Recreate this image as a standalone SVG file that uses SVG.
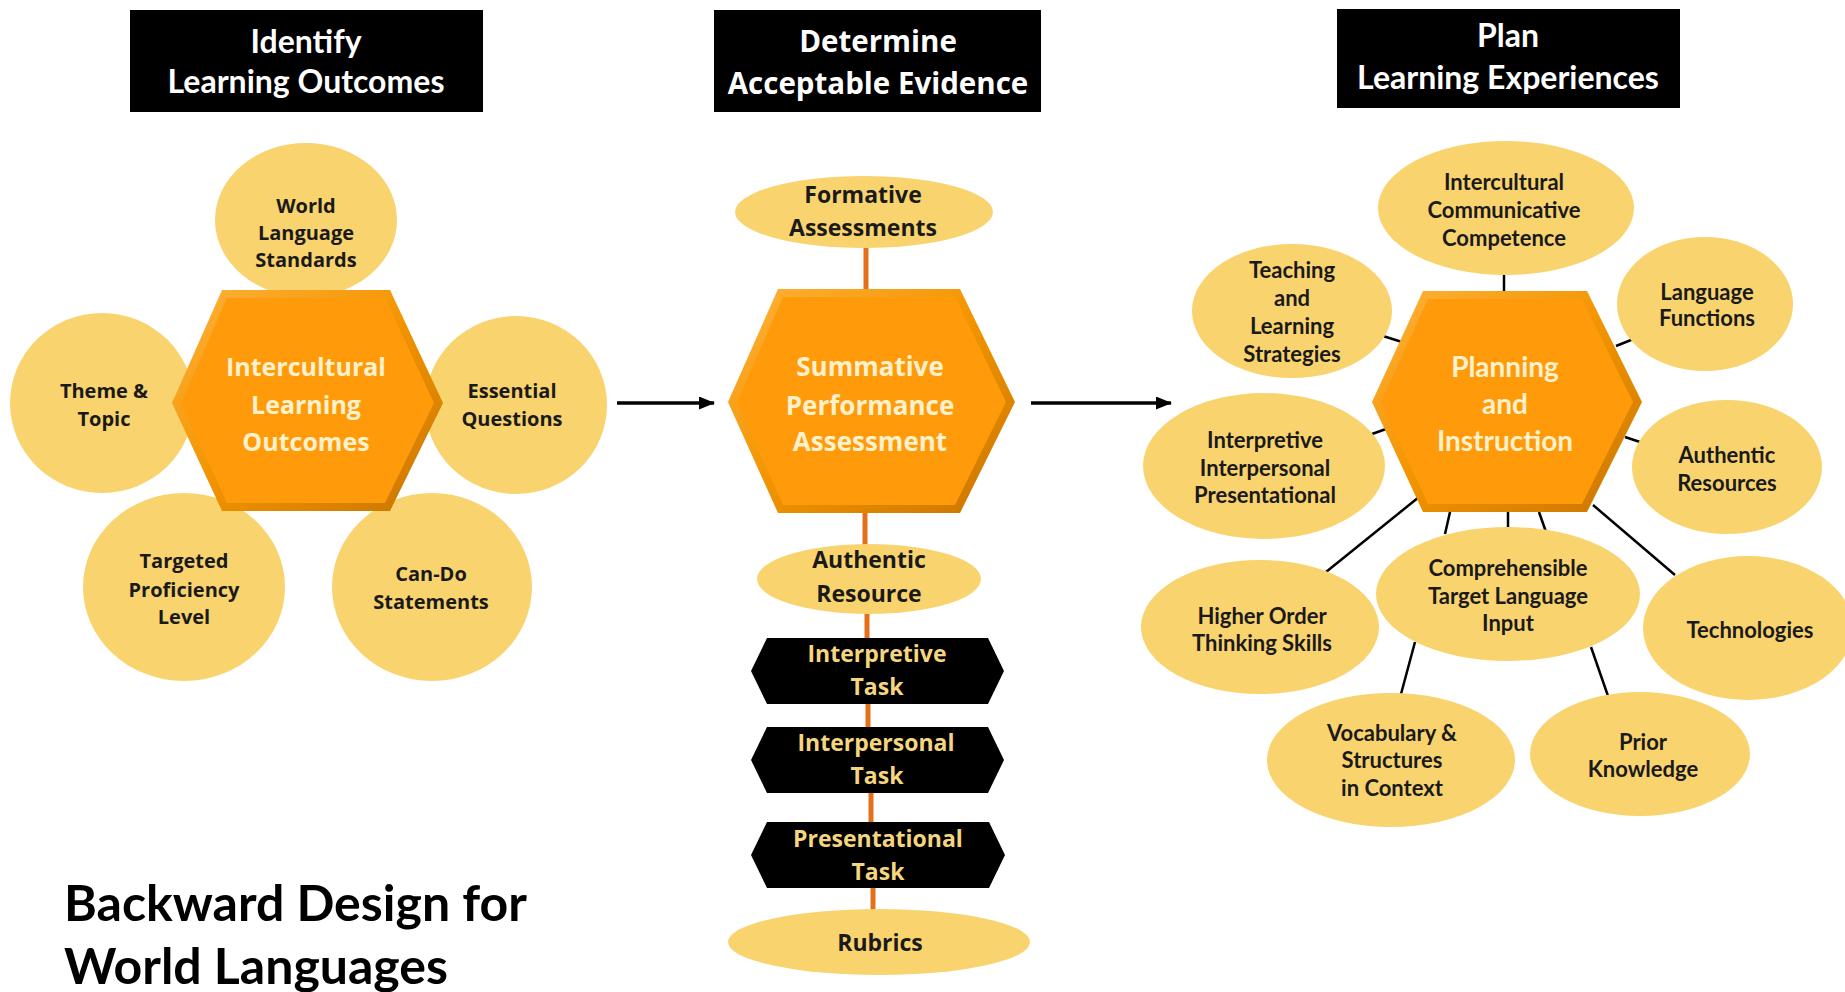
<svg xmlns="http://www.w3.org/2000/svg" width="1845" height="992" viewBox="0 0 1845 992">
<defs>
<marker id="arrow" viewBox="0 0 16 13" refX="15" refY="6.5" markerWidth="16" markerHeight="13" markerUnits="userSpaceOnUse" orient="auto">
<path d="M0,0 L16,6.5 L0,13 Z" fill="#000"/>
</marker>
<linearGradient id="bevel" x1="0" y1="0" x2="1" y2="1">
<stop offset="0" stop-color="#FFB23A"/>
<stop offset="0.5" stop-color="#F29400"/>
<stop offset="1" stop-color="#C87400"/>
</linearGradient>
</defs>
<style>
.circ{fill:#F9D36E}
.hexo{fill:url(#bevel)}
.hexi{fill:#FF9B0A}
.task{fill:#000}
.hdr{fill:#000}
.hdrt{font-family:Lato,"Open Sans",sans-serif;font-weight:bold;font-size:32px;fill:#fff;text-anchor:middle}
.hdrv{font-family:"Open Sans",sans-serif;font-weight:bold;font-size:29.5px;fill:#fff;text-anchor:middle}
.lt{font-family:"Open Sans",sans-serif;font-weight:bold;font-size:20px;fill:#1a1a1a;text-anchor:middle}
.mt{font-family:"Open Sans",sans-serif;font-weight:bold;font-size:23px;fill:#1a1a1a;text-anchor:middle}
.tt{font-family:"Open Sans",sans-serif;font-weight:bold;font-size:23px;fill:#F5D67E;text-anchor:middle}
.ht{font-family:"Open Sans",sans-serif;font-weight:bold;font-size:25px;fill:#FFF1CC;text-anchor:middle}
.rt{font-family:Lato,"Open Sans",sans-serif;font-weight:bold;font-size:22px;fill:#1a1a1a;text-anchor:middle}
.rht{font-family:Lato,"Open Sans",sans-serif;font-weight:bold;font-size:28px;fill:#FFF1CC;text-anchor:middle}
.title{font-family:Lato,"Open Sans",sans-serif;font-weight:bold;font-size:50px;fill:#000}
.oc{stroke:#E4701A;stroke-width:5;fill:none}
.bl{stroke:#000;stroke-width:2.5;fill:none}
.arr{stroke:#000;stroke-width:3.5;fill:none}
</style>
<rect width="1845" height="992" fill="#fff"/>

<g id="connectors">
<line class="arr" x1="617" y1="403" x2="714" y2="403" marker-end="url(#arrow)"/>
<line class="arr" x1="1031" y1="403" x2="1171" y2="403" marker-end="url(#arrow)"/>
<line class="oc" x1="866" y1="247" x2="866" y2="291"/>
<line class="oc" x1="865" y1="513" x2="865" y2="547"/>
<line class="oc" x1="867" y1="613" x2="867" y2="640"/>
<line class="oc" x1="868" y1="704" x2="868" y2="728"/>
<line class="oc" x1="871" y1="793" x2="871" y2="824"/>
<line class="oc" x1="873" y1="888" x2="873" y2="912"/>
<line class="bl" x1="1504" y1="273" x2="1504" y2="292"/>
<line class="bl" x1="1383" y1="336" x2="1402" y2="342"/>
<line class="bl" x1="1616" y1="346" x2="1636" y2="338"/>
<line class="bl" x1="1372" y1="434" x2="1386" y2="429"/>
<line class="bl" x1="1625" y1="437" x2="1640" y2="442"/>
<line class="bl" x1="1419" y1="497" x2="1326" y2="572"/>
<line class="bl" x1="1593" y1="505" x2="1675" y2="575"/>
<line class="bl" x1="1450" y1="512" x2="1445" y2="534"/>
<line class="bl" x1="1508" y1="512" x2="1508" y2="530"/>
<line class="bl" x1="1539" y1="512" x2="1546" y2="532"/>
<line class="bl" x1="1415" y1="642" x2="1401" y2="694"/>
<line class="bl" x1="1591" y1="647" x2="1608" y2="696"/>
</g>

<!-- Left column -->
<g id="hdr-identify">
<rect class="hdr" x="130" y="10" width="353" height="102"/>
<text class="hdrt" x="306" y="53">Identify</text>
<text class="hdrt" x="306" y="93">Learning Outcomes</text>
</g>
<g id="n-wls">
<ellipse class="circ" cx="306" cy="220" rx="91" ry="77"/>
<text class="lt" x="306" y="213">World</text>
<text class="lt" x="306" y="240">Language</text>
<text class="lt" x="306" y="267">Standards</text>
</g>
<g id="n-theme">
<ellipse class="circ" cx="102" cy="403" rx="92" ry="90"/>
<text class="lt" x="104" y="398">Theme &amp;</text>
<text class="lt" x="104" y="426">Topic</text>
</g>
<g id="n-eq">
<ellipse class="circ" cx="516" cy="405" rx="91" ry="89"/>
<text class="lt" x="512" y="398">Essential</text>
<text class="lt" x="512" y="426">Questions</text>
</g>
<g id="n-tpl">
<ellipse class="circ" cx="184" cy="587" rx="101" ry="94"/>
<text class="lt" x="184" y="568">Targeted</text>
<text class="lt" x="184" y="597">Proficiency</text>
<text class="lt" x="184" y="624">Level</text>
</g>
<g id="n-cando">
<ellipse class="circ" cx="432" cy="587" rx="100" ry="94"/>
<text class="lt" x="431" y="581">Can-Do</text>
<text class="lt" x="431" y="609">Statements</text>
</g>
<g id="n-ilo">
<polygon class="hexo" points="222,290 390,290 443,403 390,511 222,511 172,403"/>
<polygon class="hexi" points="227,298 385,298 434,403 385,503 227,503 181,403"/>
<text class="ht" x="306" y="376">Intercultural</text>
<text class="ht" x="306" y="414">Learning</text>
<text class="ht" x="306" y="451">Outcomes</text>
</g>

<!-- Middle column -->
<g id="hdr-determine">
<rect class="hdr" x="714" y="10" width="327" height="102"/>
<text class="hdrv" x="878" y="52">Determine</text>
<text class="hdrv" x="878" y="94">Acceptable Evidence</text>
</g>
<g id="n-formative">
<ellipse class="circ" cx="864" cy="212" rx="129" ry="36"/>
<text class="mt" x="863" y="203">Formative</text>
<text class="mt" x="863" y="236">Assessments</text>
</g>
<g id="n-spa">
<polygon class="hexo" points="778,289 960,289 1015,402 960,513 778,513 728,402"/>
<polygon class="hexi" points="783,297 955,297 1006,402 955,505 783,505 737,402"/>
<text class="ht" x="870" y="376" style="font-size:26px">Summative</text>
<text class="ht" x="870" y="415" style="font-size:26px">Performance</text>
<text class="ht" x="870" y="451" style="font-size:26px">Assessment</text>
</g>
<g id="n-authres">
<ellipse class="circ" cx="869" cy="579" rx="112" ry="35"/>
<text class="mt" x="869" y="568">Authentic</text>
<text class="mt" x="869" y="602">Resource</text>
</g>
<g id="n-interp">
<polygon class="task" points="767,638 988,638 1004,671 988,704 767,704 751,671"/>
<text class="tt" x="877" y="662">Interpretive</text>
<text class="tt" x="877" y="695">Task</text>
</g>
<g id="n-interpers">
<polygon class="task" points="767,727 988,727 1004,760 988,793 767,793 751,760"/>
<text class="tt" x="876" y="751">Interpersonal</text>
<text class="tt" x="877" y="784">Task</text>
</g>
<g id="n-present">
<polygon class="task" points="767,822 989,822 1005,855 989,888 767,888 751,855"/>
<text class="tt" x="878" y="847">Presentational</text>
<text class="tt" x="878" y="880">Task</text>
</g>
<g id="n-rubrics">
<ellipse class="circ" cx="879" cy="942" rx="151" ry="33"/>
<text class="mt" x="880" y="951">Rubrics</text>
</g>

<!-- Right column -->
<g id="hdr-plan">
<rect class="hdr" x="1337" y="9" width="343" height="99"/>
<text class="hdrt" x="1508" y="47">Plan</text>
<text class="hdrt" x="1508" y="89">Learning Experiences</text>
</g>
<g id="n-icc">
<ellipse class="circ" cx="1506" cy="208" rx="128" ry="67"/>
<text class="rt" x="1504" y="190">Intercultural</text>
<text class="rt" x="1504" y="218">Communicative</text>
<text class="rt" x="1504" y="246">Competence</text>
</g>
<g id="n-tls">
<ellipse class="circ" cx="1292" cy="311" rx="100" ry="67"/>
<text class="rt" x="1292" y="278">Teaching</text>
<text class="rt" x="1292" y="306">and</text>
<text class="rt" x="1292" y="334">Learning</text>
<text class="rt" x="1292" y="362">Strategies</text>
</g>
<g id="n-lf">
<ellipse class="circ" cx="1705" cy="304" rx="88" ry="67"/>
<text class="rt" x="1707" y="300">Language</text>
<text class="rt" x="1707" y="326">Functions</text>
</g>
<g id="n-iip">
<ellipse class="circ" cx="1264" cy="466" rx="121" ry="73"/>
<text class="rt" x="1265" y="448">Interpretive</text>
<text class="rt" x="1265" y="476">Interpersonal</text>
<text class="rt" x="1265" y="503">Presentational</text>
</g>
<g id="n-ar">
<ellipse class="circ" cx="1727" cy="467" rx="95" ry="67"/>
<text class="rt" x="1727" y="463">Authentic</text>
<text class="rt" x="1727" y="491">Resources</text>
</g>
<g id="n-hots">
<ellipse class="circ" cx="1260" cy="627" rx="119" ry="67"/>
<text class="rt" x="1262" y="624">Higher Order</text>
<text class="rt" x="1262" y="651">Thinking Skills</text>
</g>
<g id="n-tech">
<ellipse class="circ" cx="1748" cy="628" rx="105" ry="72"/>
<text class="rt" x="1750" y="638">Technologies</text>
</g>
<g id="n-ctli">
<ellipse class="circ" cx="1508" cy="594" rx="132" ry="67"/>
<text class="rt" x="1508" y="576">Comprehensible</text>
<text class="rt" x="1508" y="604">Target Language</text>
<text class="rt" x="1508" y="631">Input</text>
</g>
<g id="n-vocab">
<ellipse class="circ" cx="1391" cy="760" rx="124" ry="67"/>
<text class="rt" x="1392" y="741">Vocabulary &amp;</text>
<text class="rt" x="1392" y="768">Structures</text>
<text class="rt" x="1392" y="796">in Context</text>
</g>
<g id="n-prior">
<ellipse class="circ" cx="1640" cy="754" rx="110" ry="62"/>
<text class="rt" x="1643" y="750">Prior</text>
<text class="rt" x="1643" y="777">Knowledge</text>
</g>
<g id="n-pi">
<polygon class="hexo" points="1423,291 1587,291 1642,402 1587,512 1423,512 1372,402"/>
<polygon class="hexi" points="1428,299 1582,299 1633,402 1582,504 1428,504 1381,402"/>
<text class="rht" x="1505" y="377">Planning</text>
<text class="rht" x="1505" y="414">and</text>
<text class="rht" x="1505" y="451">Instruction</text>
</g>

<g id="title">
<text class="title" x="64" y="921">Backward Design for</text>
<text class="title" x="64" y="984">World Languages</text>
</g>
</svg>
